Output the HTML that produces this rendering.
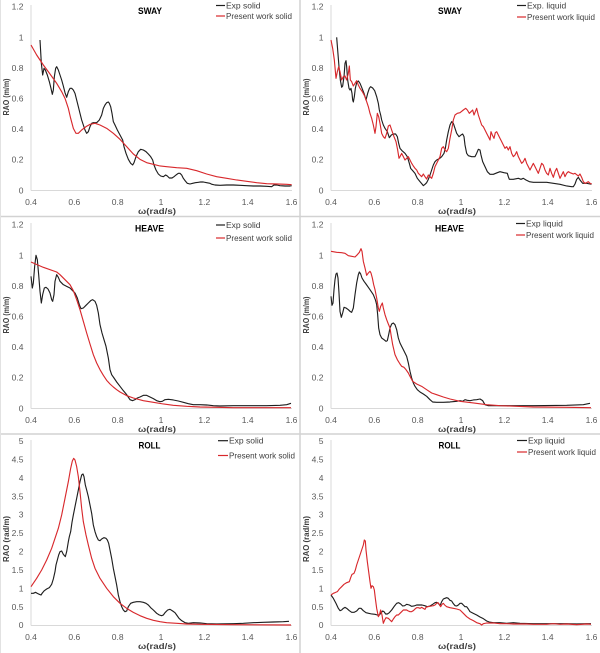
<!DOCTYPE html>
<html><head><meta charset="utf-8"><style>
html,body{margin:0;padding:0;background:#fff;}
svg{display:block;}
text{font-family:"Liberation Sans",Arial,sans-serif;}
.t{font-size:8.5px;fill:#595959;}
.ya{text-anchor:end;}
.xa{text-anchor:middle;}
.ttl{font-size:9.5px;font-weight:bold;fill:#000;text-anchor:middle;}
.lab{font-size:8.5px;font-weight:bold;fill:#404040;text-anchor:middle;}
.lg{font-size:8.5px;fill:#404040;}
.ax{stroke:#d9d9d9;stroke-width:1;fill:none;}
.k{fill:none;stroke:#1e1e1e;stroke-width:3.4;stroke-linejoin:round;}
.r{fill:none;stroke:#d8282c;stroke-width:3.4;stroke-linejoin:round;}
</style></head><body>
<svg width="600" height="653" viewBox="0 0 600 653" xmlns="http://www.w3.org/2000/svg">
<rect width="600" height="653" fill="#fff"/>
<defs>
<g id="xt">
<line class="ax" x1="31" y1="190.5" x2="292" y2="190.5"/>
<line class="ax" x1="31" y1="5" x2="31" y2="190.5"/>
<text class="t xa" x="31" y="205">0.4</text>
<text class="t xa" x="74.3" y="205">0.6</text>
<text class="t xa" x="117.7" y="205">0.8</text>
<text class="t xa" x="161" y="205">1</text>
<text class="t xa" x="204.3" y="205">1.2</text>
<text class="t xa" x="247.7" y="205">1.4</text>
<text class="t xa" x="291.5" y="205">1.6</text>
<text class="lab" x="157" y="214" textLength="38" lengthAdjust="spacingAndGlyphs">ω(rad/s)</text>
</g>
<g id="y12">
<text class="t ya" x="23.5" y="9.7">1.2</text>
<text class="t ya" x="23.5" y="40.3">1</text>
<text class="t ya" x="23.5" y="70.9">0.8</text>
<text class="t ya" x="23.5" y="101.5">0.6</text>
<text class="t ya" x="23.5" y="132.1">0.4</text>
<text class="t ya" x="23.5" y="162.7">0.2</text>
<text class="t ya" x="23.5" y="193.5">0</text>
<text class="lab" transform="translate(9,97) rotate(-90)" textLength="37" lengthAdjust="spacingAndGlyphs">RAO (m/m)</text>
</g>
<g id="y5">
<text class="t ya" x="23.5" y="9">5</text>
<text class="t ya" x="23.5" y="27.4">4.5</text>
<text class="t ya" x="23.5" y="45.8">4</text>
<text class="t ya" x="23.5" y="64.3">3.5</text>
<text class="t ya" x="23.5" y="82.7">3</text>
<text class="t ya" x="23.5" y="101.1">2.5</text>
<text class="t ya" x="23.5" y="119.5">2</text>
<text class="t ya" x="23.5" y="137.9">1.5</text>
<text class="t ya" x="23.5" y="156.4">1</text>
<text class="t ya" x="23.5" y="174.8">0.5</text>
<text class="t ya" x="23.5" y="193.2">0</text>
<text class="lab" transform="translate(9,104) rotate(-90)" textLength="46" lengthAdjust="spacingAndGlyphs">RAO (rad/m)</text>
</g>
</defs>

<!-- dividers -->
<line x1="300" y1="0" x2="300" y2="653" stroke="#d2d2d2" stroke-width="1.5"/>
<line x1="0" y1="216.5" x2="600" y2="216.5" stroke="#d2d2d2" stroke-width="1.5"/>
<line x1="0" y1="434" x2="600" y2="434" stroke="#d2d2d2" stroke-width="1.5"/>
<line x1="0.5" y1="0" x2="0.5" y2="653" stroke="#e2e2e2" stroke-width="1"/>

<!-- Panel 1: SWAY solid -->
<g transform="translate(0,0)">
<use href="#xt"/><use href="#y12"/>
<text class="ttl" x="150" y="14" textLength="24" lengthAdjust="spacingAndGlyphs">SWAY</text>
<line x1="216" y1="5.5" x2="225" y2="5.5" stroke="#1e1e1e" stroke-width="1.2"/>
<text class="lg" x="226" y="8.5">Exp solid</text>
<line x1="216" y1="16" x2="225" y2="16" stroke="#d8282c" stroke-width="1.2"/>
<text class="lg" x="226" y="19" textLength="66" lengthAdjust="spacingAndGlyphs">Present work solid</text>
<g transform="scale(0.33333)">
<polyline class="k" points="120,120 124,190 128,225 132,205 136,210 142,225 148,245 153,265 157,283 160,270 163,230 167,205 170,200 175,210 180,225 185,240 190,258 195,278 200,292 205,275 210,265 215,265 220,270 225,280 230,300 235,320 240,340 245,360 250,375 255,390 260,400 265,395 270,380 275,370 280,368 290,368 298,360 305,345 310,325 315,315 320,308 325,306 328,310 332,320 336,340 340,365 345,375 352,390 360,405 368,420 372,440 378,460 385,478 392,490 398,495 402,488 408,470 415,455 422,448 430,450 438,455 445,462 452,470 458,480 462,495 468,510 475,522 482,528 490,530 497,525 502,528 508,534 516,534 522,530 528,525 535,520 540,520 545,525 550,535 556,543 562,550 570,552 578,550 586,548 595,547 602,546 610,546 620,548 630,550 636,553 645,555 660,556 680,555 700,555 720,556 740,557 760,558 780,558 800,559 815,560 822,555 830,555 840,557 855,558 870,558 875,557"/>
<polyline class="r" points="93,135 110,165 130,195 150,222 170,250 185,275 195,295 205,325 212,355 220,385 228,400 235,400 245,390 258,380 270,373 285,370 300,375 320,385 340,400 360,418 380,440 400,462 420,478 440,488 460,493 480,498 500,500 530,503 560,505 590,512 620,522 650,530 680,535 710,540 740,544 770,548 800,551 830,552 860,553 875,554"/>
</g>
</g>

<!-- Panel 2: SWAY liquid -->
<g transform="translate(300,0)">
<use href="#xt"/><use href="#y12"/>
<text class="ttl" x="150" y="14" textLength="24" lengthAdjust="spacingAndGlyphs">SWAY</text>
<line x1="217" y1="5.5" x2="226" y2="5.5" stroke="#1e1e1e" stroke-width="1.2"/>
<text class="lg" x="227" y="8.5">Exp. liquid</text>
<line x1="217" y1="17" x2="226" y2="17" stroke="#d8282c" stroke-width="1.2"/>
<text class="lg" x="227" y="20" textLength="68" lengthAdjust="spacingAndGlyphs">Present work liquid</text>
<g transform="scale(0.33333)">
<polyline class="k" points="110,112 113,150 117,200 121,240 125,262 128,258 132,230 135,190 138,182 140,200 143,240 147,265 150,270 153,265 156,280 158,300 160,306 163,290 166,265 170,248 175,243 180,250 185,262 192,280 198,300 203,280 208,265 212,260 218,264 224,272 230,290 235,310 238,330 242,345 245,360 250,375 255,385 262,395 268,413 274,405 280,402 287,402 292,410 296,430 300,445 306,452 315,460 322,470 328,490 332,505 338,512 345,520 352,535 360,545 366,552 370,557 375,553 380,548 385,538 390,525 395,510 400,495 405,485 410,480 418,476 425,470 432,460 436,445 440,420 445,395 450,375 455,365 460,370 465,385 470,400 477,410 483,405 488,402 492,410 495,435 500,460 505,467 515,470 525,470 530,460 535,448 540,450 543,465 548,485 555,500 562,515 570,523 580,523 592,518 600,515 612,518 622,520 625,530 628,538 640,538 655,535 663,538 670,535 678,540 688,545 700,547 720,547 740,547 760,550 780,553 800,558 815,560 820,560 825,552 830,538 835,532 840,540 848,550 860,550 870,552 875,552"/>
<polyline class="r" points="93,120 98,145 103,180 108,235 112,215 116,200 120,215 125,240 130,230 135,228 140,240 145,220 148,198 151,240 155,245 160,258 165,250 170,242 175,255 180,265 187,275 195,290 200,305 205,320 210,340 215,355 220,375 225,400 228,380 232,340 236,350 240,370 245,400 250,410 255,415 260,400 265,378 270,375 275,390 282,410 288,425 293,450 297,475 300,470 305,460 310,470 315,480 320,475 325,470 330,480 335,490 340,498 345,505 350,510 355,520 360,525 365,530 370,522 375,530 380,537 385,525 390,530 395,535 400,520 405,500 410,490 415,480 420,470 425,445 430,440 435,450 440,455 445,445 450,415 455,390 460,360 465,345 472,340 480,338 490,330 497,325 502,330 508,340 513,335 518,330 522,345 526,335 530,325 535,345 540,360 545,375 550,380 555,390 560,400 565,410 570,420 573,395 577,405 582,415 586,398 590,395 595,405 600,415 605,425 610,435 615,445 620,440 625,450 630,440 635,460 640,470 645,465 650,455 655,470 660,480 665,490 670,485 675,475 680,490 685,500 690,510 695,500 700,490 705,500 710,510 715,520 720,505 725,490 730,495 735,510 740,520 745,525 750,505 755,520 760,532 765,515 770,505 775,520 780,535 785,525 790,515 795,530 800,520 805,515 810,518 815,520 820,522 825,520 830,524 835,528 840,522 845,532 850,545 855,550 860,548 865,545 870,550 875,552"/>
</g>
</g>

<!-- Panel 3: HEAVE solid -->
<g transform="translate(0,218)">
<use href="#xt"/><use href="#y12"/>
<text class="ttl" x="149.5" y="13.5" textLength="29" lengthAdjust="spacingAndGlyphs">HEAVE</text>
<line x1="216" y1="7" x2="225" y2="7" stroke="#1e1e1e" stroke-width="1.2"/>
<text class="lg" x="226" y="10">Exp solid</text>
<line x1="216" y1="20" x2="225" y2="20" stroke="#d8282c" stroke-width="1.2"/>
<text class="lg" x="226" y="23" textLength="66" lengthAdjust="spacingAndGlyphs">Present work solid</text>
<g transform="scale(0.33333)">
<polyline class="k" points="93,175 97,210 100,195 104,145 108,112 112,125 116,170 120,220 124,255 128,230 133,210 138,208 144,213 150,225 155,245 158,250 162,230 165,190 170,170 175,178 180,190 190,200 200,205 210,210 218,218 225,225 232,240 238,260 243,272 250,270 258,262 265,255 272,248 278,245 285,250 290,262 295,285 300,320 306,345 312,365 318,385 325,420 330,455 335,470 342,480 350,492 360,505 370,518 380,530 390,545 398,548 405,545 412,540 420,537 430,532 440,532 450,537 460,542 470,548 480,551 487,550 495,545 505,544 520,546 535,549 550,553 565,557 580,560 600,560 620,561 640,563 660,564 700,563 750,563 800,563 840,562 860,560 873,556"/>
<polyline class="r" points="93,132 130,148 170,162 180,170 195,185 210,200 220,218 230,245 240,275 250,310 260,345 270,378 280,410 290,435 300,455 310,472 320,487 330,498 340,507 350,515 360,522 380,533 400,540 430,548 460,553 490,558 520,562 560,565 600,567 650,568 700,569 800,569 873,569"/>
</g>
</g>

<!-- Panel 4: HEAVE liquid -->
<g transform="translate(300,218)">
<use href="#xt"/><use href="#y12"/>
<text class="ttl" x="149.5" y="13.5" textLength="29" lengthAdjust="spacingAndGlyphs">HEAVE</text>
<line x1="216" y1="5.5" x2="225" y2="5.5" stroke="#1e1e1e" stroke-width="1.2"/>
<text class="lg" x="226" y="8.5">Exp liquid</text>
<line x1="216" y1="17" x2="225" y2="17" stroke="#d8282c" stroke-width="1.2"/>
<text class="lg" x="226" y="20" textLength="68" lengthAdjust="spacingAndGlyphs">Present work liquid</text>
<g transform="scale(0.33333)">
<polyline class="k" points="93,235 96,262 99,255 102,215 105,185 108,168 111,165 114,180 117,225 120,280 124,298 128,285 132,268 138,270 145,275 150,280 155,283 160,270 165,230 170,195 175,170 178,162 182,168 186,180 192,190 198,198 205,208 212,218 220,230 226,245 230,260 233,290 236,330 240,350 245,360 252,365 258,370 262,368 266,350 270,330 275,318 280,315 285,320 290,335 295,360 300,375 305,385 310,395 315,405 320,415 325,435 330,460 335,480 340,495 345,505 352,515 360,522 370,528 380,535 390,545 398,552 410,553 430,553 450,552 470,550 480,548 488,550 495,545 502,547 510,548 520,546 530,545 540,543 548,548 555,560 565,563 600,563 700,563 800,562 850,560 870,556"/>
<polyline class="r" points="93,100 110,103 125,104 135,106 145,113 155,115 165,117 172,110 178,103 183,92 186,100 190,130 195,150 200,172 205,165 210,160 213,165 217,180 221,200 225,215 230,240 235,270 238,280 242,265 247,255 250,270 255,290 260,305 265,318 270,330 273,350 278,380 285,410 292,425 300,438 305,445 312,448 318,455 325,465 330,475 338,490 350,498 365,505 380,515 395,525 410,530 430,537 450,543 480,550 520,555 560,560 600,563 650,565 700,567 800,568 873,569"/>
</g>
</g>

<!-- Panel 5: ROLL solid -->
<g transform="translate(0,435)">
<use href="#xt"/><use href="#y5"/>
<text class="ttl" x="149.5" y="13.5" textLength="22" lengthAdjust="spacingAndGlyphs">ROLL</text>
<line x1="218" y1="5.7" x2="228" y2="5.7" stroke="#1e1e1e" stroke-width="1.2"/>
<text class="lg" x="229" y="8.7">Exp solid</text>
<line x1="218" y1="20.5" x2="228" y2="20.5" stroke="#d8282c" stroke-width="1.2"/>
<text class="lg" x="229" y="23.5" textLength="66" lengthAdjust="spacingAndGlyphs">Present work solid</text>
<g transform="scale(0.33333)">
<polyline class="k" points="93,475 100,475 107,472 112,475 118,478 123,480 127,474 133,467 140,462 148,458 155,448 160,432 165,410 168,390 172,375 176,360 180,350 185,348 190,358 196,365 200,350 205,320 208,305 212,290 216,262 220,240 225,215 230,190 235,165 240,140 245,120 249,117 252,125 256,150 260,165 265,185 270,210 275,235 280,270 285,290 290,305 295,315 300,317 305,312 312,308 318,310 322,315 326,325 330,345 335,370 340,400 345,425 350,450 355,480 360,500 365,515 370,525 375,530 380,528 385,515 392,505 400,502 410,500 420,500 430,502 438,505 445,510 452,518 460,525 470,535 478,540 485,542 490,540 495,533 503,525 510,523 518,528 525,533 530,540 537,550 545,557 555,563 565,565 580,563 600,564 620,566 650,567 700,566 730,565 760,563 790,562 820,561 850,560 867,559"/>
<polyline class="r" points="93,455 110,430 125,405 140,375 155,340 165,310 175,280 185,240 195,190 205,140 212,100 217,78 221,70 225,75 230,95 235,125 240,170 245,220 250,260 258,300 265,330 275,370 285,400 300,430 320,460 340,485 360,505 380,520 400,532 420,542 440,550 460,556 480,560 500,563 530,565 560,567 600,568 700,569 873,570"/>
</g>
</g>

<!-- Panel 6: ROLL liquid -->
<g transform="translate(300,435)">
<use href="#xt"/><use href="#y5"/>
<text class="ttl" x="149.5" y="13.5" textLength="22" lengthAdjust="spacingAndGlyphs">ROLL</text>
<line x1="217" y1="5.5" x2="227" y2="5.5" stroke="#1e1e1e" stroke-width="1.2"/>
<text class="lg" x="228" y="8.5">Exp liquid</text>
<line x1="217" y1="17" x2="227" y2="17" stroke="#d8282c" stroke-width="1.2"/>
<text class="lg" x="228" y="20" textLength="68" lengthAdjust="spacingAndGlyphs">Present work liquid</text>
<g transform="scale(0.33333)">
<polyline class="k" points="93,480 100,490 108,505 115,520 120,527 125,525 130,520 135,517 140,520 148,527 155,532 162,532 170,528 177,520 183,520 190,527 198,533 206,535 215,537 225,538 232,540 238,540 244,533 248,528 252,530 257,537 262,537 268,533 275,525 282,515 290,505 296,503 302,507 308,513 314,512 320,508 328,510 335,514 342,513 350,510 358,510 366,510 374,512 382,515 390,513 398,508 405,503 410,502 415,505 420,512 425,500 430,492 435,490 440,488 445,490 450,496 455,498 460,506 465,512 470,513 475,510 480,505 485,505 490,510 495,515 500,515 505,522 510,530 520,535 530,540 540,546 550,551 560,558 568,561 580,563 600,563 620,565 640,563 660,565 700,566 750,566 800,566 830,567 860,566 873,566"/>
<polyline class="r" points="93,480 100,475 105,473 112,470 118,462 125,455 132,448 140,443 148,440 152,428 156,418 162,415 166,405 170,390 175,375 180,360 185,345 190,330 193,315 196,318 198,345 202,380 206,410 210,440 213,460 216,452 220,455 223,465 226,490 230,520 235,545 238,540 242,525 246,540 250,565 254,555 258,548 265,550 270,555 275,560 280,552 285,545 290,540 295,540 300,535 305,530 310,525 315,525 320,525 325,528 330,530 335,530 340,527 345,522 350,518 355,518 360,520 365,517 370,520 375,523 378,517 383,515 390,514 395,513 400,512 405,510 410,505 414,503 418,508 422,515 426,508 430,505 434,510 440,515 450,518 460,520 470,522 480,525 490,535 500,545 510,552 520,557 530,563 540,566 545,570 550,566 560,564 580,564 600,566 620,566 640,567 660,567 680,567 700,568 720,568 740,568 760,566 780,568 800,567 830,569 860,567 873,568"/>
</g>
</g>
</svg>
</body></html>
